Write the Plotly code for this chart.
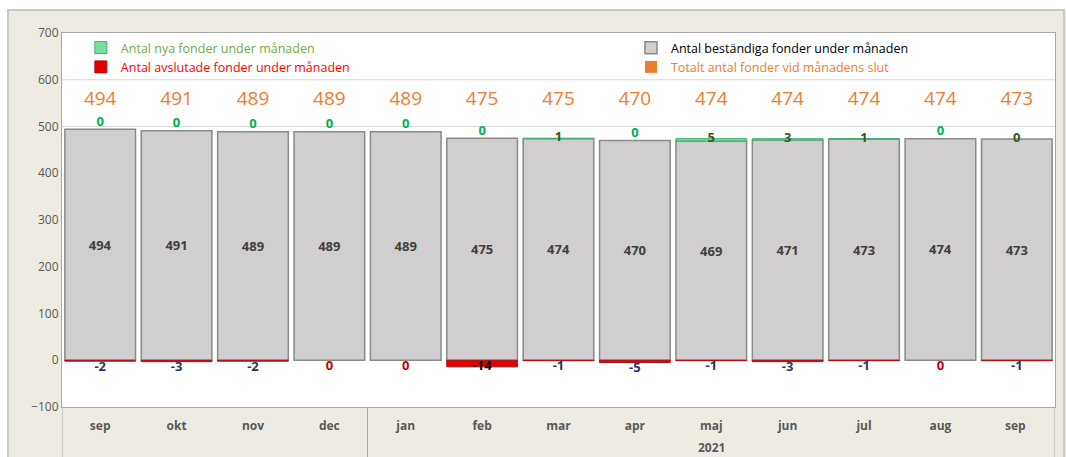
import plotly.graph_objects as go

# ---------------- data ----------------
years = [" ", " ", " ", " ", "2021", "2021", "2021", "2021", "2021", "2021", "2021", "2021", "2021"]
months = ["sep", "okt", "nov", "dec", "jan", "feb", "mar", "apr", "maj", "jun", "jul", "aug", "sep"]
bestandiga = [494, 491, 489, 489, 489, 475, 474, 470, 469, 471, 473, 474, 473]
nya = [0, 0, 0, 0, 0, 0, 1, 0, 5, 3, 1, 0, 0]
avslutade = [-2, -3, -2, 0, 0, -14, -1, -5, -1, -3, -1, 0, -1]
totalt = [494, 491, 489, 489, 489, 475, 475, 470, 474, 474, 474, 474, 473]
y_ticks = [-100, 0, 100, 200, 300, 400, 500, 600, 700]

# ---------------- styles ----------------
FONT = "Open Sans"
GRAY_FILL = "#D0CECE"
GRAY_LINE = "#8A8A8A"
GREEN_FILL = "#78DFA3"
GREEN_LINE = "#3DAE6B"
RED_FILL = "#E00000"
RED_LINE = "#B01010"
ORANGE = "#ED7D31"
LEG_GREEN = "#70AD47"
LEG_RED = "#FF0000"
LABEL_GREEN = "#00B050"
LABEL_DARKGREEN = "#375623"
LABEL_NAVY = "#1F3864"
LABEL_RED = "#C00000"
AXIS_GRAY = "#A6A6A6"
TOTAL_LABEL_Y = 557

# unique category keys (a repeated month name gets a trailing space so it stays in order)
seen = {}
month_keys = []
for m in months:
    seen[m] = seen.get(m, 0) + 1
    month_keys.append(m + " " * (seen[m] - 1))
x = month_keys
top = [b + n for b, n in zip(bestandiga, nya)]


def nz(vals):
    # zero-height segments are not drawn (avoids a stray outline on top of the stack)
    return [v if v != 0 else None for v in vals]


nya_colors = [LABEL_DARKGREEN if v > 0 else LABEL_GREEN for v in nya]
nya_pos = ["middle center" if v > 0 else "top center" for v in nya]
nya_colors[-1] = LABEL_DARKGREEN
nya_pos[-1] = "middle center"

avs_colors = []
avs_pos = []
for v in avslutade:
    if v == 0:
        avs_colors.append(LABEL_RED)
        avs_pos.append("bottom center")
    elif v <= -10:
        avs_colors.append("black")
        avs_pos.append("middle center")
    else:
        avs_colors.append(LABEL_NAVY)
        avs_pos.append("bottom center")

fig = go.Figure()

fig.add_trace(go.Bar(
    x=x, y=bestandiga, name="<span style='color:black'>Antal beständiga fonder under månaden</span>",
    marker=dict(color=GRAY_FILL, line=dict(color=GRAY_LINE, width=1.5)),
    text=[str(v) for v in bestandiga], textposition="inside", insidetextanchor="middle",
    textangle=0, constraintext="none",
    textfont=dict(family=FONT, size=13, color="#404040", weight="bold"),
    legend="legend2", legendrank=1, hoverinfo="skip",
))
fig.add_trace(go.Bar(
    x=x, y=nz(nya), name=f"<span style='color:{LEG_GREEN}'>Antal nya fonder under månaden</span>",
    marker=dict(color=GREEN_FILL, line=dict(color=GREEN_LINE, width=1)),
    legend="legend", legendrank=1, hoverinfo="skip",
))
fig.add_trace(go.Bar(
    x=x, y=nz(avslutade), name=f"<span style='color:{LEG_RED}'>Antal avslutade fonder under månaden</span>",
    marker=dict(color=RED_FILL, line=dict(color=RED_LINE, width=1)),
    legend="legend", legendrank=2, hoverinfo="skip",
))
# legend entry for totals (no visible bar, only the legend swatch)
fig.add_trace(go.Bar(
    x=[month_keys[0]], y=[None],
    name=f"<span style='color:{ORANGE}'>Totalt antal fonder vid månadens slut</span>",
    marker=dict(color=ORANGE, line=dict(width=0)),
    legend="legend2", legendrank=2, hoverinfo="skip",
))

# labels
fig.add_trace(go.Scatter(
    x=x, y=top, mode="text", text=[str(v) for v in nya], textposition=nya_pos,
    textfont=dict(family=FONT, size=13, color=nya_colors, weight="bold"),
    showlegend=False, hoverinfo="skip",
))
fig.add_trace(go.Scatter(
    x=x, y=avslutade, mode="text", text=[str(v) for v in avslutade], textposition=avs_pos,
    textfont=dict(family=FONT, size=13, color=avs_colors, weight="bold"),
    showlegend=False, hoverinfo="skip",
))
fig.add_trace(go.Scatter(
    x=x, y=[TOTAL_LABEL_Y] * len(totalt), mode="text", text=[str(v) for v in totalt],
    textposition="middle center",
    textfont=dict(family=FONT, size=19, color=ORANGE),
    showlegend=False, hoverinfo="skip",
))

# year groups: dividers at group boundaries and a label centred under each group
bounds = [-0.5] + [i - 0.5 for i in range(1, len(years)) if years[i] != years[i - 1]] + [len(years) - 0.5]
shapes = []
annotations = []
for b in bounds:
    shapes.append(dict(type="line", xref="x", yref="paper", x0=b, x1=b, y0=0, y1=-0.2,
                       line=dict(color=AXIS_GRAY, width=1), layer="above"))
for a, b in zip(bounds[:-1], bounds[1:]):
    label = years[int(a + 0.5)].strip()
    if label:
        annotations.append(dict(text=f"<b>{label}</b>", x=(a + b) / 2, xref="x",
                                y=(407 - 447) / 374, yref="paper", yanchor="middle",
                                showarrow=False,
                                font=dict(family=FONT, size=12, color="#595959")))

shapes += [
    dict(type="line", xref="paper", x0=0, x1=1, yref="y", y0=500, y1=500,
         line=dict(color="#D9D9D9", width=1), layer="below"),
    dict(type="line", xref="paper", x0=0, x1=1, yref="y", y0=600, y1=600,
         line=dict(color="#D9D9D9", width=1), layer="below"),
    # white strips outside the rounded panel
    dict(type="rect", xref="paper", yref="paper", x0=-0.07, x1=1.02,
         y0=(407 - 10) / 374, y1=(407 + 5) / 374, fillcolor="white", line=dict(width=0),
         layer="below"),
    dict(type="rect", xref="paper", yref="paper", x0=-0.07, x1=(8 - 62) / 993,
         y0=-0.2, y1=1.1, fillcolor="white", line=dict(width=0), layer="below"),
    dict(type="rect", xref="paper", yref="paper", x0=(8 - 62) / 993, x1=(1064 - 62) / 993,
         y0=-0.3, y1=(407 - 10) / 374, fillcolor="rgba(0,0,0,0)",
         line=dict(color="#C8C8C8", width=2), layer="above"),
]

BEIGE = "#EEECE2"
fig.update_layout(
    width=1066, height=457,
    margin=dict(l=62, r=11, t=33, b=50, autoexpand=False),
    paper_bgcolor=BEIGE, plot_bgcolor="white",
    barmode="relative", bargap=0.075,
    font=dict(family=FONT, size=12, color="#595959"),
    legend=dict(x=0.019, y=1.0, xanchor="left", yanchor="top", orientation="v",
                bgcolor="rgba(0,0,0,0)", font=dict(family=FONT, size=12.5),
                traceorder="normal", tracegroupgap=0),
    legend2=dict(x=0.573, y=1.0, xanchor="left", yanchor="top", orientation="v",
                 bgcolor="rgba(0,0,0,0)", font=dict(family=FONT, size=12.5),
                 traceorder="normal", tracegroupgap=0),
    xaxis=dict(type="category", range=[-0.5, len(months) - 0.5],
               showline=True, linecolor=AXIS_GRAY, linewidth=1,
               mirror=True, showgrid=False, ticks="", ticklabelstandoff=8,
               tickfont=dict(family=FONT, size=12, color="#595959", weight="bold")),
    yaxis=dict(range=[-100, 700], tickvals=y_ticks, showgrid=False, zeroline=False,
               showline=True, linecolor=AXIS_GRAY, linewidth=1, mirror=True,
               ticks="", tickfont=dict(family=FONT, size=12, color="#595959")),
    shapes=shapes,
    annotations=annotations,
)

fig.write_html("out.html", config={"displayModeBar": False},
               post_script="document.body.style.margin='0';document.body.style.overflow='hidden';")
